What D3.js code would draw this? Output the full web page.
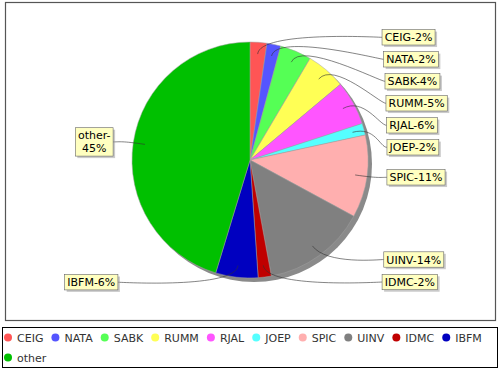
<!DOCTYPE html>
<html>
<head>
<meta charset="utf-8">
<script src="https://cdn.jsdelivr.net/npm/d3@7"></script>
<style>
  body { margin: 0; background: #fff; }
  svg { display: block; font-family: "DejaVu Sans", sans-serif; }
</style>
</head>
<body>
<svg id="chart" width="500" height="370"></svg>
<script>
// slices, clockwise from 12 o'clock
const names = ["CEIG", "NATA", "SABK", "RUMM", "RJAL", "JOEP", "SPIC", "UINV", "IDMC", "IBFM", "other"];
const shares = [2.3, 1.9, 4.3, 5.4, 6.1, 1.6, 11.3, 14.2, 1.8, 5.8, 45.3];
const colors = ["#ff5555", "#5555ff", "#55ff55", "#ffff55", "#ff55ff", "#55ffff", "#ffafaf", "#808080", "#c00000", "#0000c0", "#00c000"];

const svg = d3.select("#chart");
const cx = 250, cy = 160, R = 118;
const total = d3.sum(shares);
const pctText = v => Math.round(v / total * 100) + "%";

// plot outline
svg.append("rect").attr("x", 5.5).attr("y", 2.5).attr("width", 490).attr("height", 318)
  .attr("fill", "#fff").attr("stroke", "#555").attr("stroke-width", 1.2);

const slices = d3.pie().sort(null).value(d => d)(shares);
const arc = d3.arc().innerRadius(0).outerRadius(R);

const g = svg.append("g").attr("transform", `translate(${cx},${cy})`);
g.append("circle").attr("cx", 4).attr("cy", 4).attr("r", R).attr("fill", "#8a8a8a");
g.selectAll("path.slice").data(slices).join("path").attr("class", "slice")
  .attr("d", arc).attr("fill", (d, i) => colors[i])
  .attr("stroke", "#a0a0a0").attr("stroke-width", 0.5);

// label layout
const fontSize = 11, lineH = 13, padX = 2.6, padY = 1.2;
const measure = svg.append("text").style("font-size", fontSize + "px");
const textW = s => { measure.text(s); return measure.node().getComputedTextLength(); };

const labels = slices.map((d, i) => {
  const mid = (d.startAngle + d.endAngle) / 2;
  const side = mid < Math.PI ? 1 : -1;
  let lines = [names[i] + "-" + pctText(d.data)];
  if (side < 0 && textW(lines[0]) + 2 * padX > cx - 137 - 55) lines = [names[i] + "-", pctText(d.data)];
  return { i, mid, side, lines, natY: cy - Math.cos(mid) * 123 };
});

[1, -1].forEach(side => {
  let prev = -Infinity;
  labels.filter(l => l.side === side).sort((a, b) => a.natY - b.natY).forEach(l => {
    l.y = Math.max(l.natY, prev + 22);
    prev = l.y;
  });
});

const lg = svg.append("g");
labels.forEach(l => {
  const dx = 137 * Math.sqrt(1 - Math.pow((l.y - cy) / 460, 2));
  const mw = d3.max(l.lines, textW);
  const bw = mw + 2 * padX, bh = l.lines.length * lineH + 2 * padY;
  const edgeX = cx + l.side * dx;
  const bx = l.side > 0 ? edgeX : edgeX - bw;
  const by = l.y - bh / 2;

  const sx = cx + Math.sin(l.mid) * R * 0.9, sy = cy - Math.cos(l.mid) * R * 0.9;
  const ex = cx + Math.sin(l.mid) * R * 1.1, ey = cy - Math.cos(l.mid) * R * 1.1;
  const ax = cx + l.side * R * 1.1;
  lg.append("path").attr("d", `M${sx},${sy}C${ex},${ey} ${ax},${l.y} ${edgeX},${l.y}`)
    .attr("fill", "none").attr("stroke", "#333").attr("stroke-width", 0.6);

  lg.append("rect").attr("x", bx + 2).attr("y", by + 2).attr("width", bw).attr("height", bh)
    .attr("fill", "rgba(151,151,151,0.5)");
  lg.append("rect").attr("x", bx).attr("y", by).attr("width", bw).attr("height", bh)
    .attr("fill", "#ffffc0").attr("stroke", "#666").attr("stroke-width", 0.6);
  l.lines.forEach((s, k) => {
    lg.append("text").attr("x", bx + bw / 2).attr("y", by + padY + k * lineH + 10.5)
      .attr("text-anchor", "middle").style("font-size", fontSize + "px").attr("fill", "#000").text(s);
  });
});
measure.remove();

// legend
svg.append("rect").attr("x", 2.5).attr("y", 327.5).attr("width", 495).attr("height", 40)
  .attr("fill", "#fff").attr("stroke", "#000").attr("stroke-width", 1);
const leg = svg.append("g");
let lx = 4, row = 0;
names.forEach((n, i) => {
  const it = leg.append("g");
  const t = it.append("text").style("font-size", fontSize + "px").attr("fill", "#333").text(n);
  const w = t.node().getComputedTextLength();
  if (lx + 13 + w > 494) { lx = 4; row++; }
  const yc = 337.5 + row * 20;
  it.append("circle").attr("cx", lx + 4).attr("cy", yc).attr("r", 4).attr("fill", colors[i]);
  t.attr("x", lx + 13).attr("y", yc + 4);
  lx += 13 + w + 8;
});
</script>
</body>
</html>
